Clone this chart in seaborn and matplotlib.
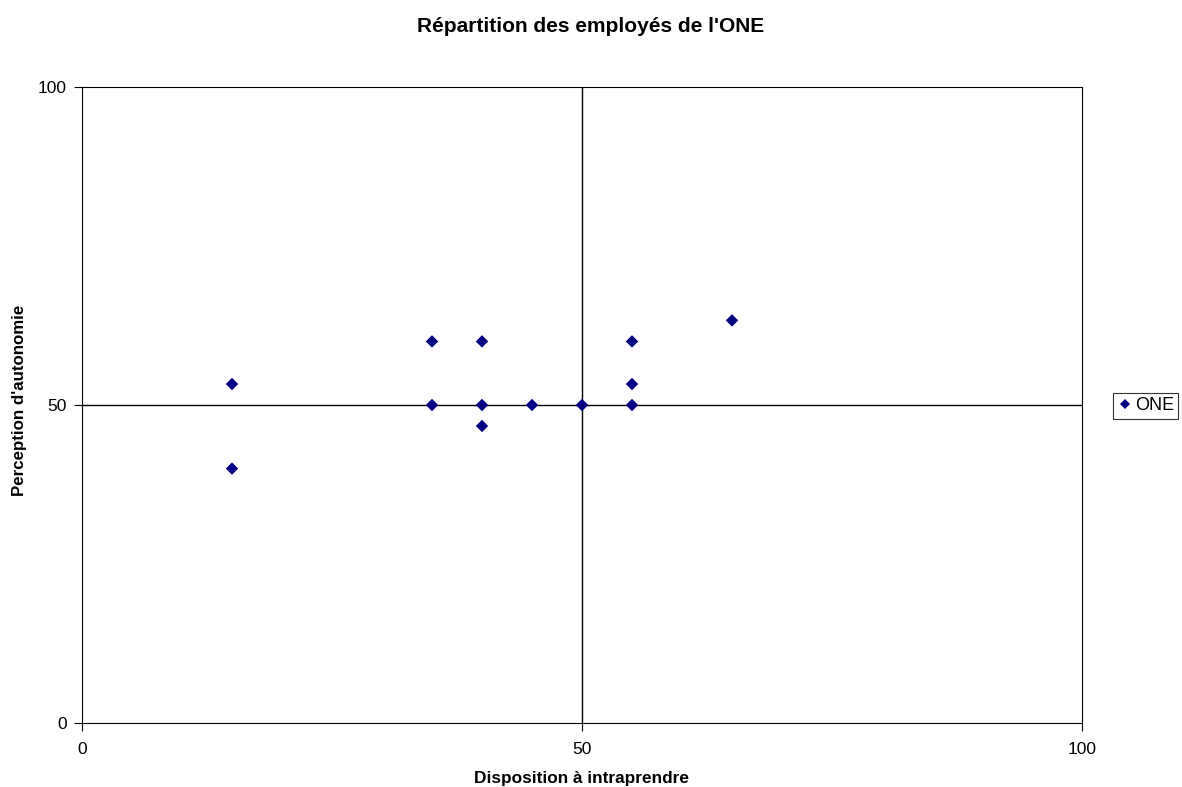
import matplotlib
matplotlib.use("Agg")
import matplotlib.pyplot as plt
import seaborn as sns
import pandas as pd

x_disposition = [15, 15, 35, 35, 40, 40, 40, 45, 50, 55, 55, 55, 65]
y_perception = [53.3, 40, 60, 50, 60, 50, 46.7, 50, 50, 60, 53.3, 50, 63.3]
series_name = "ONE"
ticks = [0, 50, 100]

sns.set_theme(style="white", rc={"text.color": "black", "axes.labelcolor": "black",
                                 "xtick.color": "black", "ytick.color": "black"})
plt.rcParams['font.family'] = ['Liberation Sans', 'DejaVu Sans']

df = pd.DataFrame({"x": x_disposition, "y": y_perception, "serie": series_name})

fig = plt.figure(figsize=(11.82, 7.87), dpi=100)
ax = fig.add_axes([82/1182, 64/787, 1000/1182, 636/787])

ax.axhline(50, color="black", lw=1, zorder=1)
ax.axvline(50, color="black", lw=1, zorder=1)

sns.scatterplot(data=df, x="x", y="y", hue="serie", palette=["#000080"],
                marker="D", s=40, linewidth=0, ax=ax, zorder=3)

ax.set_xlim(0, 100)
ax.set_ylim(0, 100)
ax.set_xticks(ticks)
ax.set_yticks(ticks)
ax.tick_params(axis="both", direction="out", length=6, width=0.8, labelsize=12.5,
               bottom=True, left=True, colors="black")
ax.tick_params(axis="x", pad=8)
ax.tick_params(axis="y", pad=5)
for sp in ax.spines.values():
    sp.set_color("black")
    sp.set_linewidth(0.8)

ax.set_xlabel("Disposition à intraprendre", fontsize=12.4, fontweight="bold")
ax.set_ylabel("Perception d'autonomie", fontsize=12.2, fontweight="bold")
ax.xaxis.label.set_va("center")
ax.yaxis.label.set_va("center")
ax.xaxis.set_label_coords(0.5, (723 - 778) / 636)
ax.yaxis.set_label_coords((20 - 82) / 1000, (723 - 400) / 636)

fig.text(0.5, 1 - 27/787, "Répartition des employés de l'ONE", ha="center", va="center",
         fontsize=15, fontweight="bold")

leg = ax.legend(loc="center left", bbox_to_anchor=((1113 - 82) / 1000, (723 - 406) / 636),
                frameon=True, fancybox=False, edgecolor="black", fontsize=13,
                handletextpad=0.15, borderpad=0.25, borderaxespad=0,
                markerscale=0.8, handlelength=0.8)
leg.get_frame().set_linewidth(0.8)
leg.set_title(None)

fig.savefig("out.png", dpi=100)
